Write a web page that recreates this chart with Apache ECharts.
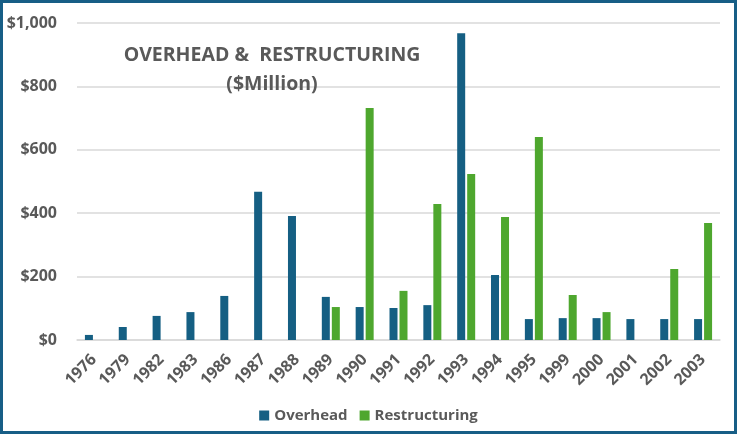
<!DOCTYPE html>
<html>
<head>
<meta charset="utf-8">
<script src="https://cdn.jsdelivr.net/npm/echarts@6/dist/echarts.min.js"></script>
<style>
  html, body { margin: 0; padding: 0; background: #fff; }
  #chart { width: 737px; height: 434px; box-sizing: border-box; border: 3px solid #175e86; }
</style>
</head>
<body>
<div id="chart"></div>
<script>
// values, $ million
const years = ['1976', '1979', '1982', '1983', '1986', '1987', '1988', '1989', '1990', '1991',
  '1992', '1993', '1994', '1995', '1999', '2000', '2001', '2002', '2003']
const overhead = [16, 41, 76, 88, 139, 468, 391, 136, 104, 101, 110, 968, 205, 66, 69, 69, 66, 66, 66]
const restructuring = [0, 0, 0, 0, 0, 0, 0, 104, 732, 155, 429, 524, 388, 640, 142, 88, 0, 224, 369]
const yTicks = [0, 200, 400, 600, 800, 1000]

const chart = echarts.init(document.getElementById('chart'))
const textGray = '#595959'
const font = '"Open Sans", sans-serif'

chart.setOption({
  backgroundColor: '#fff',
  animation: false,
  title: {
    text: 'OVERHEAD &  RESTRUCTURING\n($Million)',
    left: 264,
    top: 33,
    textAlign: 'center',
    textStyle: {
      color: textGray,
      fontFamily: font,
      fontWeight: 'bold',
      fontSize: 19.5,
      lineHeight: 29
    }
  },
  grid: {
    left: 74,
    right: 14,
    top: 20,
    bottom: 91
  },
  legend: {
    bottom: 3,
    left: 'center',
    itemWidth: 10,
    itemHeight: 10,
    itemGap: 12,
    icon: 'rect',
    textStyle: {
      color: textGray,
      fontFamily: font,
      fontWeight: 'bold',
      fontSize: 15
    },
    data: ['Overhead', 'Restructuring']
  },
  xAxis: {
    type: 'category',
    data: years,
    axisLine: { lineStyle: { color: '#d9d9d9', width: 1.5 } },
    axisTick: { show: false },
    axisLabel: {
      rotate: 45,
      interval: 0,
      margin: 17,
      color: textGray,
      fontFamily: font,
      fontWeight: 'bold',
      fontSize: 16
    }
  },
  yAxis: {
    type: 'value',
    min: yTicks[0],
    max: yTicks[yTicks.length - 1],
    interval: 200,
    axisLine: { show: false },
    axisTick: { show: false },
    axisLabel: {
      margin: 20,
      color: textGray,
      fontFamily: font,
      fontWeight: 'bold',
      fontSize: 16,
      formatter: v => '$' + v.toLocaleString('en-US')
    },
    splitLine: { lineStyle: { color: '#d9d9d9', width: 1.5 } }
  },
  series: [{
    name: 'Overhead',
    type: 'bar',
    barWidth: 8,
    barGap: '25%',
    itemStyle: { color: '#155f83' },
    data: overhead
  }, {
    name: 'Restructuring',
    type: 'bar',
    barWidth: 8,
    itemStyle: { color: '#4ea72e' },
    data: restructuring
  }]
})
</script>
</body>
</html>
